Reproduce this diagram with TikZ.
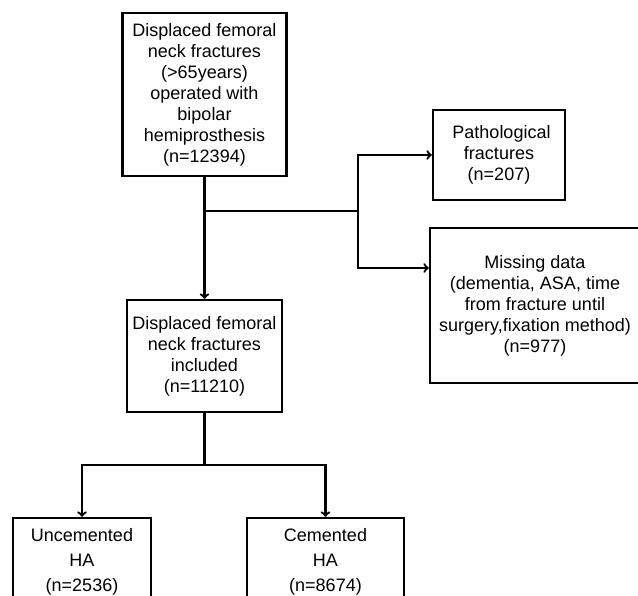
\documentclass[tikz,border=0pt]{standalone}
\usepackage{fontspec}
\setmainfont{Liberation Sans}
\usepackage{tikz}
\usetikzlibrary{arrows}

\begin{document}
\begin{tikzpicture}[x=1pt,y=-1pt,line width=2.3pt,>=to,
    box/.style={draw,align=center,inner sep=0pt,font=\fontsize{18}{21}\selectfont},
    lowbox/.style={box,font=\fontsize{18}{25}\selectfont}]
    \clip (0,0) rectangle (638,596);
    % Draw the boxes
    \node[box,minimum width=164,minimum height=163] (all) at (204.5,94.5)
      {Displaced femoral\\neck fractures\\(>65years)\\operated with\\bipolar\\hemiprosthesis\\(n=12394)};
    \node[box,minimum width=132,minimum height=90] (patho) at (499,155)
      {\ Pathological\\fractures\\(n=207)};
    \node[box,minimum width=210,minimum height=155] (missing) at (535,305.5)
      {Missing data\\(dementia, ASA, time\\from fracture until\\surgery,fixation method)\\(n=977)};
    \node[box,minimum width=155,minimum height=112] (incl) at (204.5,356)
      {Displaced femoral\\neck fractures\\included\\(n=11210)};
    \node[lowbox,minimum width=138,minimum height=88] (unc) at (82,562)
      {Uncemented\\HA\\(n=2536)};
    \node[lowbox,minimum width=157,minimum height=88] (cem) at (325.5,562)
      {Cemented\\HA\\(n=8674)};
    % Draw the exclusions
    \coordinate (split) at (204.5,211);
    \coordinate (side) at (358,211);
    \draw (split) -- (side);
    \draw[->] (side) |- (patho.west);
    \draw[->] (side) |- ([yshift=37.5pt]missing.west);
    \draw[->] (all) -- (incl);
    % Draw the split by cement
    \coordinate (fork) at (204.5,465);
    \draw (incl) -- (fork);
    \draw[->] (fork) -| (unc.north);
    \draw[->] (fork) -| (cem.north);
\end{tikzpicture}
\end{document}
